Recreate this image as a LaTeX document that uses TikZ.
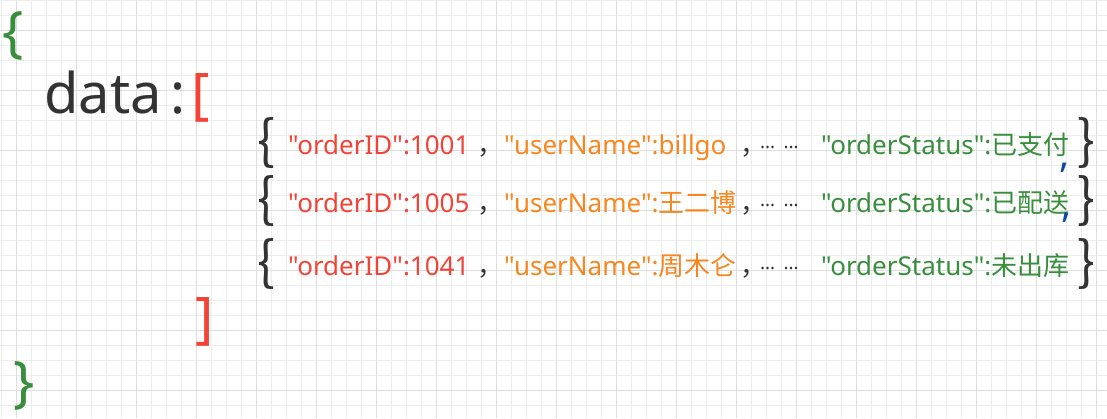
\documentclass[tikz,border=0pt]{standalone}
\usepackage{fontspec}
\setmainfont{Noto Sans}
\newfontfamily\latin{Noto Sans}
\newfontfamily\cjk{Noto Sans CJK SC}
\definecolor{keyred}{HTML}{F44336}
\definecolor{keyorange}{HTML}{F7861E}
\definecolor{keygreen}{HTML}{388E3C}
\definecolor{commablue}{HTML}{0D47A1}
\definecolor{txtgray}{HTML}{333333}
\definecolor{gridminor}{HTML}{EDEDED}
\definecolor{gridmajor}{HTML}{DEDEDE}
\tikzset{
  txt/.style={anchor=base west,inner sep=0pt,font=\latin\fontsize{26}{30}\selectfont},
  bigtxt/.style={anchor=base west,inner sep=0pt,font=\latin\fontsize{56}{60}\selectfont},
  bigbrace/.style={inner sep=0pt,font=\latin\fontsize{56}{56}\selectfont},
  rowbrace/.style={inner sep=0pt,txtgray,font=\cjk\fontsize{53}{53}\selectfont},
  bluecomma/.style={inner sep=0pt,commablue,font=\latin\fontsize{38}{38}\selectfont\bfseries}
}
\begin{document}
\begin{tikzpicture}[x=1pt,y=-1pt]
  \useasboundingbox (0,0) rectangle (1107,418);
  % grid
  \foreach \x in {1,16,...,1106}
    \draw[gridminor] (\x,0) -- ++(0,418);
  \foreach \y in {0,15,...,417}
    \draw[gridminor] (0,\y) -- ++(1107,0);
  \foreach \x in {16,76,...,1106}
    \draw[gridmajor] (\x,0) -- ++(0,418);
  \foreach \y in {30,90,...,417}
    \draw[gridmajor] (0,\y) -- ++(1107,0);
  %
  \node[bigbrace,keygreen] (objopen) at (13,36) {\{};
  \node[bigtxt,txtgray] (datakey) at (44,113) {data\,:};
  \node[bigbrace,keyred] (arropen) at (201,97.5) {[};
  %
  \foreach \yb/\id/\name/\status [count=\i] in
      {154/1001/billgo/{\cjk 已支付},
       212/1005/{\cjk 王二博}/{\cjk 已配送},
       275/1041/{\cjk 周木仑}/{\cjk 未出库}}
  {
    \node[rowbrace] (open\i) at (266,\yb-11) {\{};
    \node[txt,keyred] (id\i) at (288,\yb) {"orderID":\id};
    \node[txt,txtgray] (sepa\i) at (477,\yb) {\cjk ，};
    \node[txt,keyorange] (name\i) at (504,\yb) {"userName":\name};
    \node[txt,txtgray] (sepb\i) at (740,\yb) {\cjk ，};
    \node[txt,txtgray,font=\latin\fontsize{19}{19}\selectfont] (dots\i)
      at (760,\yb-6) {…\hspace{8.5pt}…};
    \node[txt,keygreen] (status\i) at (821,\yb) {"orderStatus":\status};
    \node[rowbrace] (close\i) at (1086,\yb-11) {\}};
  }
  \node[bluecomma] (commaA) at (1065,168) {,};
  \node[bluecomma] (commaB) at (1066.5,218) {,};
  %
  \node[bigbrace,keyred] (arrclose) at (205,321.5) {]};
  \node[bigbrace,keygreen] (objclose) at (24,385.5) {\}};
\end{tikzpicture}
\end{document}
